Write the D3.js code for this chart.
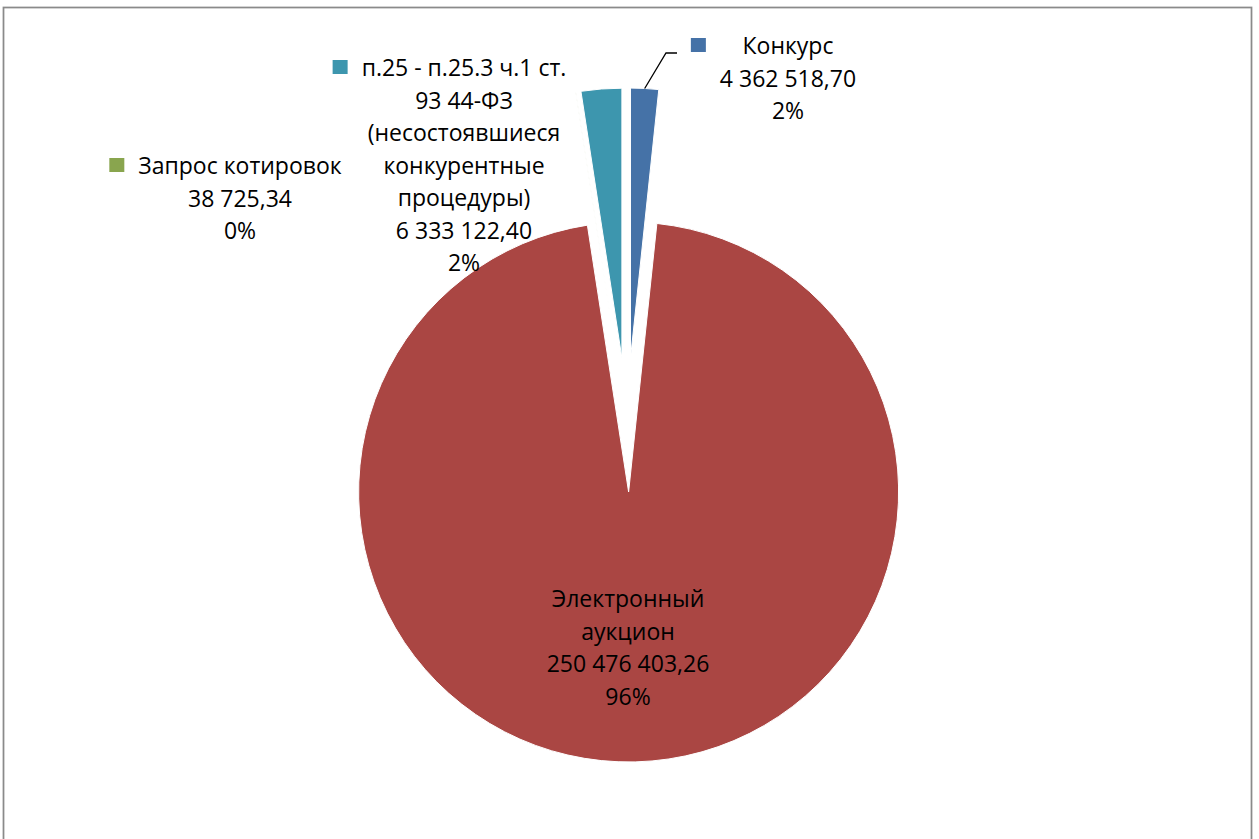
<!DOCTYPE html>
<html>
<head>
<meta charset="utf-8">
<script src="https://cdn.jsdelivr.net/npm/d3@7"></script>
<style>
  body { margin: 0; background: #fff; }
  svg { display: block; }
</style>
</head>
<body>
<svg id="chart"></svg>
<script>
// data
const categories = ['Конкурс', 'Электронный\nаукцион', 'Запрос котировок', 'п.25 - п.25.3 ч.1 ст.\n93 44-ФЗ\n(несостоявшиеся\nконкурентные\nпроцедуры)'];
const values = [4362518.70, 250476403.26, 38725.34, 6333122.40];
const colors = ['#4572A7', '#AA4643', '#89A54E', '#3D96AE'];

// label anchors (center x, first line center y), key square shown or not
const labelPos = [
	{x: 788, y: 46, key: true},
	{x: 628, y: 599, key: false},
	{x: 240, y: 166, key: true},
	{x: 464, y: 68, key: true}
];

const width = 1259, height = 839;
const cx = 627, cy = 425, r = 270, explode = 67;
const lineH = 32.5;

const svg = d3.select('#chart')
	.attr('width', width)
	.attr('height', height);

// chart frame
svg.append('rect')
	.attr('x', 3.5).attr('y', 7.5)
	.attr('width', 1248).attr('height', 900)
	.attr('fill', 'none')
	.attr('stroke', '#8a8a8a')
	.attr('stroke-width', 1.75);

const ru = d3.formatLocale({decimal: ',', thousands: '\u00a0', grouping: [3], currency: ['', '']});
const fmt = ru.format(',.2f');
const total = d3.sum(values);

const pie = d3.pie().sort(null).value(d => d)(values);
const arc = d3.arc().innerRadius(0).outerRadius(r);

const g = svg.append('g').attr('transform', `translate(${cx},${cy})`);

function offset(d) {
	const a = (d.startAngle + d.endAngle) / 2;
	return [explode * Math.sin(a), -explode * Math.cos(a)];
}

g.selectAll('path')
	.data(pie)
	.enter()
	.append('path')
		.attr('d', arc)
		.attr('transform', d => `translate(${offset(d)})`)
		.attr('fill', (d, i) => colors[i])
		.attr('stroke', '#fff')
		.attr('stroke-width', 1);

// leader line for Конкурс
{
	const d = pie[0];
	const a = (d.startAngle + d.endAngle) / 2;
	const o = offset(d);
	const sx = cx + o[0] + r * Math.sin(a), sy = cy + o[1] - r * Math.cos(a);
	svg.append('polyline')
		.attr('points', `${sx},${sy} 666,53 677,53`)
		.attr('fill', 'none')
		.attr('stroke', '#000')
		.attr('stroke-width', 1.3);
}

// labels
pie.forEach((d, i) => {
	const p = labelPos[i];
	const lines = categories[i].split('\n')
		.concat([fmt(values[i]), Math.round(values[i] / total * 100) + '%']);
	const t = svg.append('text')
		.attr('text-anchor', 'middle')
		.attr('font-family', '"Open Sans", sans-serif')
		.attr('font-size', 23)
		.attr('fill', '#000');
	lines.forEach((s, j) => {
		t.append('tspan')
			.attr('x', p.x)
			.attr('y', p.y + j * lineH + 8)
			.text(s);
	});
	if (p.key) {
		let maxW = 0;
		t.selectAll('tspan').each(function() { maxW = Math.max(maxW, this.getComputedTextLength()); });
		svg.append('rect')
			.attr('x', p.x - maxW / 2 - 29)
			.attr('y', p.y - 8)
			.attr('width', 15).attr('height', 14)
			.attr('fill', colors[i]);
	}
});
</script>
</body>
</html>
